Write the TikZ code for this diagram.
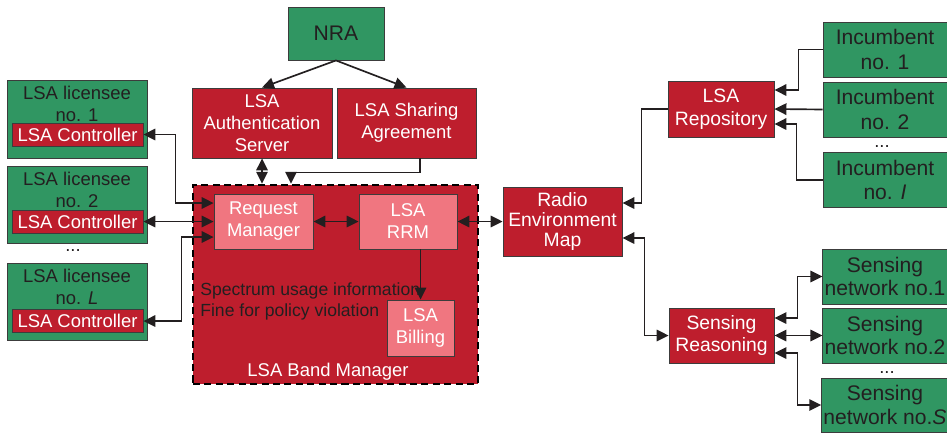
\documentclass[tikz,border=0pt]{standalone}
\usepackage{fontspec}
\setmainfont{Liberation Sans}
\usetikzlibrary{arrows.meta,positioning}
\definecolor{lsagreen}{RGB}{48,150,98}
\definecolor{lsared}{RGB}{190,30,45}
\definecolor{lsapink}{RGB}{240,118,128}
\definecolor{edge}{RGB}{60,60,60}
\definecolor{ink}{RGB}{35,31,32}
\tikzset{
  box/.style={rectangle,draw=edge,line width=0.5pt,align=center,inner sep=1pt},
  greenbox/.style={box,fill=lsagreen,text=ink},
  redbox/.style={box,fill=lsared,text=white},
  pinkbox/.style={box,fill=lsapink,text=white},
  ctrlbox/.style={redbox,minimum width=2.62cm,minimum height=0.46cm},
  licbox/.style={greenbox,minimum width=2.8cm,minimum height=1.54cm},
  incbox/.style={greenbox,font=\fontsize{12}{14}\selectfont,minimum width=2.48cm,minimum height=1.1cm},
  link/.style={line width=0.95pt,draw=ink},
}

\begin{document}
\begin{tikzpicture}[>={Triangle[length=0.24cm,width=0.23cm]},font=\fontsize{10.5}{12.5}\selectfont]
\useasboundingbox (0,0) rectangle (18.94,-8.66);
% \draw[help lines] (0,0) grid (19,-9);
\node (band) [rectangle,fill=lsared,draw=black,line width=1.4pt,dash pattern=on 4pt off 2.5pt,minimum width=5.7cm,minimum height=3.98cm] at (6.71,-5.69) {};
\node (nra) [greenbox,font=\fontsize{12}{14}\selectfont,minimum width=1.92cm,minimum height=1.06cm] at (6.72,-0.67) {NRA};
\node (auth) [redbox,minimum width=2.8cm,minimum height=1.4cm] at (5.24,-2.46) {LSA\\Authentication\\Server};
\node (share) [redbox,minimum width=2.78cm,minimum height=1.4cm] at (8.13,-2.46) {LSA Sharing\\Agreement};
\node (reqm) [pinkbox,minimum width=1.98cm,minimum height=1.1cm] at (5.27,-4.43) {Request\\Manager};
\node (rrm) [pinkbox,minimum width=1.96cm,minimum height=1.1cm] at (8.16,-4.43) {LSA\\RRM};
\node (bill) [pinkbox,minimum width=1.34cm,minimum height=1.12cm] at (8.41,-6.56) {LSA\\Billing};
\node (info) [anchor=west,align=left,text=ink,font=\fontsize{10}{12}\selectfont,inner sep=0pt] at (4.0,-6.03) {Spectrum usage information\\Fine for policy violation};
\node (bandtxt) [text=white] at (6.56,-7.44) {LSA Band Manager};
%
\node (lic1) [licbox,minimum height=1.56cm] at (1.54,-2.38) {};
\node (lic1txt) [text=ink,align=center,below=0pt of lic1.north] {LSA licensee\\no. 1};
\node (ctrl1) [ctrlbox] at (1.55,-2.69) {LSA Controller};
\node (lic2) [licbox] at (1.54,-4.09) {};
\node (lic2txt) [text=ink,align=center,below=0pt of lic2.north] {LSA licensee\\no. 2};
\node (ctrl2) [ctrlbox] at (1.55,-4.43) {LSA Controller};
\node (dotsl) [text=ink] at (1.46,-5.02) {...};
\node (lic3) [licbox] at (1.54,-6.03) {};
\node (lic3txt) [text=ink,align=center,below=0pt of lic3.north] {LSA licensee\\no. \textit{L}};
\node (ctrl3) [ctrlbox] at (1.55,-6.42) {LSA Controller};
%
\node (rem) [redbox,font=\fontsize{11}{11.5}\selectfont,minimum width=2.38cm,minimum height=1.38cm] at (11.25,-4.43) {Radio\\Environment\\Map};
\node (repo) [redbox,font=\fontsize{11}{13}\selectfont,minimum width=2.12cm,minimum height=1.12cm] at (14.42,-2.18) {LSA\\Repository};
\node (sreas) [redbox,font=\fontsize{11}{13}\selectfont,minimum width=2.1cm,minimum height=1.1cm] at (14.43,-6.71) {Sensing\\Reasoning};
\node (inc1) [incbox] at (17.7,-0.99) {Incumbent\\no. 1};
\node (inc2) [incbox] at (17.7,-2.19) {Incumbent\\no. 2};
\node (dotsi) [text=ink] at (17.64,-2.94) {...};
\node (inc3) [incbox] at (17.7,-3.6) {Incumbent\\no. \textit{I}};
\node (sn1) [incbox,font=\fontsize{12}{13.5}\selectfont] at (17.7,-5.53) {Sensing\\network no.1};
\node (sn2) [incbox,font=\fontsize{12}{13.5}\selectfont] at (17.7,-6.71) {Sensing\\network no.2};
\node (dotss) [text=ink] at (17.74,-7.46) {...};
\node (sn3) [incbox,font=\fontsize{12}{13.5}\selectfont,minimum height=1.08cm] at (17.7,-8.1) {Sensing\\network no.\textit{S}};
%
\draw[link,->] (nra.south) -- (auth.north);
\draw[link,->] (nra.south) -- (share.north);
\draw[link,<->] (auth.south) -- (auth.south |- band.north);
\draw[link,->] ([xshift=0.27cm]share.south) -- ++(0,-0.28) -| ([xshift=-0.89cm]band.north);
\draw[link,<->] (ctrl1.east) -- ++(0.64,0) |- ([yshift=0.37cm]reqm.west);
\draw[link,<->] (ctrl2.east) -- (reqm.west);
\draw[link,<->] (ctrl3.east) -- ++(0.76,0) |- ([yshift=-0.31cm]reqm.west);
\draw[link,<->] (reqm.east) -- (rrm.west);
\draw[link,->] (rrm.south -| bill.north) -- (bill.north);
\draw[link,<->] (rrm.east) -- (rem.west);
\draw[link,->] (repo.west) -- ++(-0.52,0) |- ([yshift=0.37cm]rem.east);
\draw[link,<->] ([yshift=-0.33cm]rem.east) -- ++(0.44,0) |- (sreas.west);
\draw[link,->] (inc1.west) -- ++(-0.48,0) |- ([yshift=0.38cm]repo.east);
\draw[link,->] (inc2.west) -- (repo.east);
\draw[link,->] (inc3.west) -- ++(-0.52,0) |- ([yshift=-0.3cm]repo.east);
\draw[link,<->] ([yshift=0.35cm]sreas.east) -- ++(0.46,0) |- (sn1.west);
\draw[link,<->] (sreas.east) -- (sn2.west);
\draw[link,<->] ([yshift=-0.35cm]sreas.east) -- ++(0.46,0) |- (sn3.west);
\end{tikzpicture}
\end{document}
